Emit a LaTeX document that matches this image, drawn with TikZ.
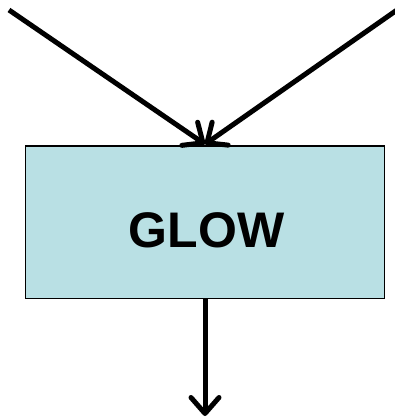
\documentclass[tikz,border=0pt]{standalone}
\usepackage{fontspec}
\setmainfont{Liberation Sans}
\usetikzlibrary{arrows.meta}
\definecolor{glowcyan}{RGB}{185,224,228}
\tikzset{
  treenode/.style = {align=center, inner sep=0pt, text centered},
  glow_box/.style = {treenode, rectangle, draw=black, fill=glowcyan,
    line width=1.5pt, minimum width=359pt, minimum height=152.5pt},% boite GLOW
  glow_txt/.style = {treenode, font=\fontsize{50}{60}\selectfont\bfseries},
}
\begin{document}
\begin{tikzpicture}[x=1pt,y=-1pt,->,>={Straight Barb[length=16pt,width=28pt,round]},
  line width=5pt]
  \useasboundingbox (0,0) rectangle (394,419);

  \node[glow_box] (glow) at (205,222.25) {};
  \node[glow_txt] (lbl) at (206.5,230) {GLOW};
  \coordinate (tl) at (9,10);
  \coordinate (tr) at (397,10);
  \coordinate (bot) at (205,416);

  %   inputs
  \path (tl) edge ([yshift=1pt]glow.north);
  \path (tr) edge ([yshift=1pt]glow.north);
  %   output
  \path (glow.south) edge (bot);
\end{tikzpicture}
\end{document}
